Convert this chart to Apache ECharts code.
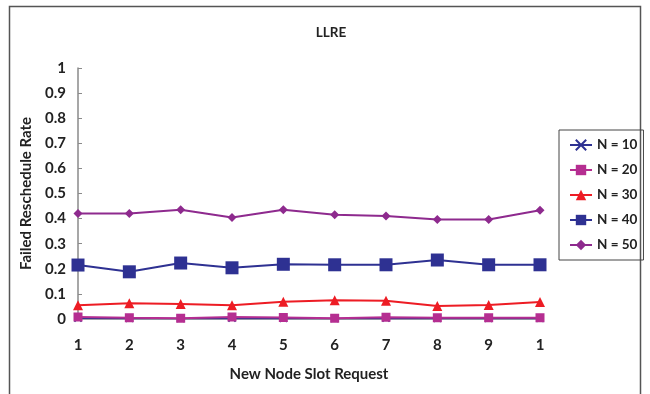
<!DOCTYPE html>
<html>
<head>
<meta charset="utf-8">
<script src="https://cdn.jsdelivr.net/npm/echarts@6/dist/echarts.min.js"></script>
<style>
  html, body { margin: 0; padding: 0; background: #fff; }
  #chart { width: 650px; height: 394px; }
</style>
</head>
<body>
<div id="chart"></div>
<script>
// Slot request index (10 requests) and the labels printed under each slot
const slots = ['1', '2', '3', '4', '5', '6', '7', '8', '9', '10'];
const tickLabels = ['1', '2', '3', '4', '5', '6', '7', '8', '9', '1'];

// Failed reschedule rate per node count
const n10 = [0.003, 0.002, 0.002, 0.003, 0.002, 0.002, 0.003, 0.002, 0.002, 0.002];
const n20 = [0.008, 0.005, 0.003, 0.008, 0.006, 0.003, 0.007, 0.005, 0.005, 0.005];
const n30 = [0.055, 0.063, 0.060, 0.055, 0.069, 0.075, 0.073, 0.052, 0.056, 0.068];
const n40 = [0.215, 0.188, 0.223, 0.204, 0.218, 0.216, 0.216, 0.235, 0.216, 0.216];
const n50 = [0.420, 0.420, 0.435, 0.404, 0.435, 0.415, 0.410, 0.396, 0.396, 0.433];

const seriesNames = ['N = 10', 'N = 20', 'N = 30', 'N = 40', 'N = 50'];

const FONT = 'Lato';
const crossPath = 'path://M0,0 L10,10 M10,0 L0,10';

const chart = echarts.init(document.getElementById('chart'), null, { renderer: 'canvas' });

function line(name, data, color, symbol, size, width) {
  return {
    name, type: 'line', data,
    symbol, symbolSize: size,
    lineStyle: { color, width: width || 2 },
    itemStyle: { color, borderColor: color, borderWidth: symbol === crossPath ? 1.5 : 0 },
    emphasis: { disabled: true },
    animation: false
  };
}

chart.setOption({
  backgroundColor: '#fff',
  title: {
    text: 'LLRE',
    left: 326, top: 21, textAlign: 'center',
    textStyle: { fontFamily: FONT, fontSize: 13.5, fontWeight: 'bold', color: '#222' }
  },
  grid: { left: 78, right: 110, top: 68, bottom: 75, containLabel: false },
  legend: {
    orient: 'vertical',
    left: 559, top: 130,
    padding: [8, 6, 8, 10],
    itemGap: 11,
    itemWidth: 22, itemHeight: 13,
    borderColor: '#444', borderWidth: 1,
    textStyle: { fontFamily: FONT, fontSize: 13.5, fontWeight: 'bold', color: '#222' },
    data: seriesNames
  },
  xAxis: {
    type: 'category',
    data: slots,
    boundaryGap: false,
    name: 'New Node Slot Request',
    nameLocation: 'middle',
    nameGap: 48,
    nameTextStyle: { fontFamily: FONT, fontSize: 15, fontWeight: 'bold', color: '#222' },
    axisLine: { lineStyle: { color: '#8a8a8a', width: 1.5 } },
    axisTick: { show: false },
    axisLabel: {
      fontFamily: FONT, fontSize: 15, fontWeight: 'bold', color: '#222', margin: 19,
      formatter: (v, i) => tickLabels[i]
    },
    splitLine: { show: false }
  },
  yAxis: {
    type: 'value',
    min: 0, max: 1, interval: 0.1,
    name: 'Failed Reschedule Rate',
    nameLocation: 'middle',
    nameGap: 41,
    nameTextStyle: { fontFamily: FONT, fontSize: 15, fontWeight: 'bold', color: '#222' },
    axisLine: { show: true, lineStyle: { color: '#8a8a8a', width: 1.5 } },
    axisTick: { show: true, inside: true, length: 4, lineStyle: { color: '#8a8a8a' } },
    axisLabel: {
      fontFamily: FONT, fontSize: 15, fontWeight: 'bold', color: '#222', margin: 12,
      formatter: v => String(Math.round(v * 10) / 10)
    },
    splitLine: { show: false }
  },
  series: [
    line(seriesNames[0], n10, '#2e3192', crossPath, 7, 1.5),
    line(seriesNames[1], n20, '#b52e91', 'rect', 9, 2),
    line(seriesNames[2], n30, '#ed1c24', 'triangle', 10, 2),
    line(seriesNames[3], n40, '#2e3192', 'rect', 13, 2),
    line(seriesNames[4], n50, '#8e2a8e', 'diamond', 9, 2)
  ],
  graphic: [
    {
      type: 'rect', silent: true, z: -1,
      shape: { x: 9.5, y: 6.5, width: 631, height: 400 },
      style: { fill: null, stroke: '#555', lineWidth: 1.5 }
    }
  ]
});
</script>
</body>
</html>
